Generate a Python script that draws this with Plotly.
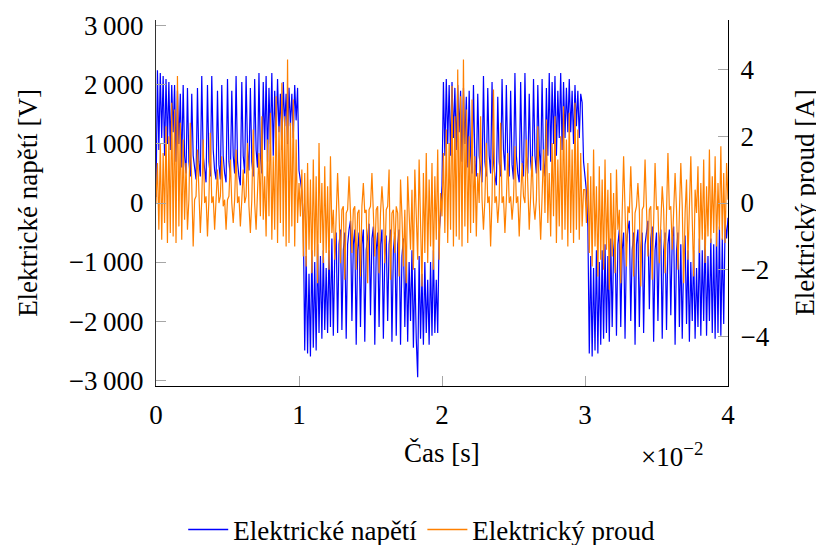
import numpy as np
import plotly.graph_objects as go

# sampling step of the recorded signals [s]
dt = 1e-4

# Elektrické napětí [V], four half-periods
u_half1 = [100, 2250, 900, 2200, 1100, 2150, 800, 2100, 1000, 2050,
           900, 2000, 1200, 2000, 700, 1900, 1000, 1850, 600, 2000,
           800, 500, 1950, 700, 450, 1850, 800, 550, 400, 1950,
           700, 450, 2150, 800, 500, 350, 2000, 700, 450, 2150,
           900, 550, 400, 1900, 650, 400, 2000, 800, 500, 350,
           2100, 700, 450, 1900, 800, 500, 2150, 700, 450, 300,
           2050, 800, 500, 2150, 900, 550, 1950, 700, 450, 2100,
           900, 600, 2200, 800, 500, 2050, 900, 2150, 700, 1950,
           1000, 2200, 800, 1900, 1100, 2100, 1200, 1850, 900, 2050,
           1300, 1850, 1000, 1950, 1300, 1850, 1100, 2000, 1400, 1950]
u_half2 = [550, 400, 200, -300, -2500, -900, -2550, -1200, -2600, -800,
           -2450, -1000, -2500, -700, -2200, -900, -2300, -800, -2150, -1100,
           -2200, -800, -2100, -600, -2250, -900, -500, -2200, -700, -450,
           -2150, -800, -500, -2300, -700, -450, -300, -2000, -700, -450,
           -2400, -800, -500, -2100, -700, -450, -2350, -800, -500, -350,
           -1900, -600, -400, -2400, -800, -500, -2100, -700, -450, -2300,
           -900, -550, -2000, -700, -450, -2350, -800, -500, -2250, -700,
           -450, -2400, -900, -600, -2100, -800, -2350, -1000, -2000, -800,
           -2450, -1100, -2300, -2950, -900, -2300, -1200, -2400, -1000, -2200,
           -1300, -2400, -1000, -2250, -800, -2200, -1300, -2200, -500, -200]
u_half3 = [300, 2050, 800, 2100, 1000, 2000, 800, 2050, 1100, 1950,
           900, 2000, 1200, 1900, 700, 1950, 1000, 1800, 600, 1900,
           800, 500, 2000, 700, 450, 1850, 800, 500, 350, 2150,
           700, 450, 1950, 800, 500, 2050, 700, 450, 300, 1800,
           700, 450, 2100, 900, 550, 2000, 700, 450, 1900, 650,
           400, 2200, 800, 500, 350, 2050, 700, 450, 2200, 800,
           500, 1850, 700, 450, 2100, 800, 500, 2000, 900, 550,
           2100, 700, 450, 1950, 800, 2200, 700, 2050, 1000, 2150,
           800, 1900, 1100, 2200, 900, 2050, 1100, 1950, 1200, 2100,
           1200, 1900, 1000, 2000, 1300, 1900, 1100, 1850, 1700, 700]
u_half4 = [500, 200, -400, -2550, -900, -2600, -1100, -2500, -800, -2550,
           -1000, -2400, -800, -2300, -700, -2200, -900, -2350, -600, -2100,
           -800, -500, -2250, -700, -450, -2100, -800, -500, -2300, -700,
           -450, -300, -2000, -800, -500, -2400, -700, -450, -2100, -800,
           -500, -2200, -700, -450, -300, -1800, -600, -400, -2350, -800,
           -500, -2000, -700, -450, -2300, -800, -500, -2150, -700, -450,
           -1900, -600, -400, -2400, -800, -500, -2100, -700, -2300, -900,
           -550, -2050, -800, -2350, -1000, -2000, -800, -2300, -1100, -2100,
           -600, -2250, -800, -2000, -500, -2250, -900, -2000, -600, -2200,
           -700, -2300, -500, -2200, -400, -2250, -600, -2050, -300, -600,
           -250]

# Elektrický proud [A], four half-periods
i_half1 = [0.0, 1.2, -0.8, 1.8, -1.1, 1.5, -0.6, 2.3, -1.2, 2.0,
           -0.9, 3.0, -1.0, 2.8, -1.2, 3.8, -0.7, 2.4, -1.1, 1.9,
           -0.5, 1.2, -0.8, 0.1, 2.4, 0.0, -1.3, 0.1, 0.2, 1.6,
           0.0, -0.9, 0.1, 1.9, 0.0, 0.2, -1.0, 0.1, 2.1, 0.0,
           0.2, -0.8, 0.1, 1.0, 0.0, 0.2, 1.4, -0.1, 0.1, -0.8,
           0.1, 0.2, 1.3, 0.0, -0.6, 0.1, 1.6, 0.0, 0.2, -0.7,
           0.1, 1.0, 0.0, 0.2, 1.8, -0.1, -0.9, 0.1, 2.2, 0.0,
           -0.8, 0.2, 1.5, -0.4, 2.6, -0.5, 0.8, -1.0, 1.9, -0.4,
           2.7, -1.1, 1.4, -0.8, 3.2, -1.2, 2.3, -0.6, 3.6, -1.0,
           2.6, -1.3, 4.3, -1.2, 2.4, -0.7, 3.1, -1.3, 1.9, -0.6]
i_half2 = [0.6, -0.4, 1.0, -1.6, 0.9, -1.9, 1.2, -1.4, 0.7, -2.1,
           1.3, -1.6, 0.8, -2.4, 1.8, -1.2, 0.6, -1.8, 1.1, -1.5,
           0.5, -2.0, 1.4, -0.9, -0.2, -1.7, -0.1, 0.9, -0.3, -1.8,
           -0.2, -0.1, -2.3, -0.3, -0.2, 0.8, -0.3, -1.5, -0.2, -0.1,
           -2.0, -0.3, -0.2, -2.2, -0.1, 0.6, -0.3, -0.2, -2.4, -0.2,
           -0.1, 0.9, -0.3, -1.6, -0.2, -0.1, -2.1, -0.3, 0.5, -0.2,
           -1.8, -0.2, -0.1, 1.0, -2.3, -0.3, -0.2, -1.5, -0.1, -0.3,
           -2.2, 0.7, -0.4, -1.9, -0.2, -2.4, 0.8, -0.5, -1.4, 0.4,
           -2.0, 1.0, -0.6, -1.7, 1.3, -1.1, -2.5, 0.9, -1.5, 1.5,
           -1.8, 0.7, -1.3, 1.2, -2.0, 0.8, -1.1, 1.6, -1.7, 0.3]
i_half3 = [-0.4, 1.5, -0.9, 2.2, -1.2, 1.8, -0.8, 3.5, -1.3, 2.6,
           -1.0, 4.0, -1.1, 3.2, -1.3, 4.3, -0.7, 2.8, -1.2, 2.0,
           -0.9, 3.1, -0.6, 1.4, -1.0, 0.9, 0.0, 2.6, 0.1, -0.8,
           0.1, 1.8, 0.0, 0.2, -1.3, 0.1, 3.4, 0.0, 0.2, -0.6,
           0.1, 2.4, 0.0, 0.2, -0.9, 0.1, 1.5, 0.0, 0.2, -0.5,
           0.1, 1.7, 0.0, 0.2, -1.0, 0.1, 1.2, 0.2, 0.0, 1.9,
           0.1, -0.8, 0.2, 1.4, 0.0, -0.5, 0.1, 2.3, 0.0, -1.1,
           0.2, 1.6, -0.3, 2.5, -0.6, 0.9, -1.0, 1.8, -0.4, 2.6,
           -1.2, 1.3, -0.7, 2.0, -1.1, 2.9, -0.8, 1.9, -1.3, 2.7,
           -0.9, 1.6, -1.2, 3.0, -0.8, 2.2, -1.1, 1.5, -0.7, 0.4]
i_half4 = [0.4, -0.6, 1.2, -1.5, 0.8, -1.9, 1.6, -1.3, 0.5, -2.2,
           1.1, -1.7, 0.7, -2.0, 1.3, -1.4, 0.4, -2.6, 0.9, -1.6,
           0.3, -2.1, 1.0, -0.8, -0.2, -2.4, -0.3, 1.4, -0.2, -1.9,
           -0.1, -0.3, 1.1, -0.2, -2.2, -0.3, -0.1, 0.6, -0.2, -2.5,
           -0.2, -0.1, 1.3, -0.3, -1.6, -0.2, -0.1, -2.3, -0.3, 1.2,
           -0.2, -0.1, -1.8, -0.3, 0.5, -0.2, -2.1, -0.3, 1.5, -0.2,
           -0.1, -1.4, -0.3, 0.9, -0.2, -2.0, -0.3, 1.2, -0.1, -2.4,
           -0.3, 0.7, -1.7, -0.2, 1.4, -0.5, -2.2, 0.4, -0.3, 1.1,
           -1.5, 0.6, -1.1, 1.3, -1.8, 0.5, -1.0, 1.6, -1.2, 0.8,
           -0.9, 1.4, -1.3, 0.6, -0.8, 1.7, -1.1, 0.9, -1.2, 1.2,
           0.1]

# tick labels
x_tickvals = [0, 0.01, 0.02, 0.03, 0.04]
x_ticktext = ["0", "1", "2", "3", "4"]
y_tickvals = [-3000, -2000, -1000, 0, 1000, 2000, 3000]
y_ticktext = ["\u22123\u2009000", "\u22122\u2009000", "\u22121\u2009000", "0",
              "1\u2009000", "2\u2009000", "3\u2009000"]
y2_tickvals = [-4, -2, 0, 2, 4]
y2_ticktext = ["\u22124", "\u22122", "0", "2", "4"]
series_names = ["Elektrické napětí", "Elektrický proud"]
series_colors = ["#0000ff", "#ff8000"]

voltage = u_half1 + u_half2 + u_half3 + u_half4
current = i_half1 + i_half2 + i_half3 + i_half4
t = np.arange(len(voltage)) * dt

FONT = "Liberation Serif"
FS = 27
TICKCOL = "#a6a6a6"

fig = go.Figure()
fig.add_trace(go.Scatter(x=t, y=voltage, mode="lines", name=series_names[0],
                         line=dict(color=series_colors[0], width=1.2), yaxis="y",
                         showlegend=False))
fig.add_trace(go.Scatter(x=t, y=current, mode="lines", name=series_names[1],
                         line=dict(color=series_colors[1], width=1.2), yaxis="y2",
                         showlegend=False))
# legend entries (drawn with a slightly thicker sample line)
for nm, col in zip(series_names, series_colors):
    fig.add_trace(go.Scatter(x=[None], y=[None], mode="lines", name=nm,
                             line=dict(color=col, width=1.6), showlegend=True))

fig.update_layout(
    width=816, height=537,
    margin=dict(l=148, r=96, t=12, b=159, autoexpand=False),
    paper_bgcolor="white", plot_bgcolor="white",
    font=dict(family=FONT, size=FS, color="black"),
    xaxis=dict(range=[0, 0.04], tickvals=x_tickvals, ticktext=x_ticktext,
               showline=True, linecolor="black", linewidth=1.3,
               ticks="inside", tickcolor=TICKCOL, ticklen=10, tickwidth=1.3,
               showgrid=False, zeroline=False, mirror=False, automargin=False,
               ticklabelstandoff=4, tickfont=dict(family=FONT, size=FS)),
    yaxis=dict(range=[-3100, 3100], tickvals=y_tickvals, ticktext=y_ticktext,
               showline=True, linecolor="#333333", linewidth=1.3,
               ticks="inside", tickcolor=TICKCOL, ticklen=10, tickwidth=1.3,
               showgrid=False, zeroline=False, automargin=False,
               ticklabelstandoff=6, tickfont=dict(family=FONT, size=FS)),
    yaxis2=dict(range=[-5.48, 5.48], tickvals=y2_tickvals, ticktext=y2_ticktext,
                overlaying="y", side="right",
                showline=True, linecolor="black", linewidth=1.3,
                ticks="inside", tickcolor=TICKCOL, ticklen=10, tickwidth=1.3,
                showgrid=False, zeroline=False, automargin=False,
                ticklabelstandoff=6, tickfont=dict(family=FONT, size=FS)),
    showlegend=True,
    legend=dict(orientation="h", xref="container", yref="container",
                x=0.507, y=0.028, xanchor="center", yanchor="middle",
                font=dict(family=FONT, size=FS), bgcolor="rgba(0,0,0,0)",
                itemwidth=40, tracegroupgap=0),
    annotations=[
        dict(text="Elektrické napětí [V]", xref="paper", yref="paper",
             x=-0.224, y=0.5, xanchor="center", yanchor="middle",
             textangle=-90, showarrow=False, font=dict(family=FONT, size=FS)),
        dict(text="Elektrický proud [A]", xref="paper", yref="paper",
             x=1.134, y=0.5, xanchor="center", yanchor="middle",
             textangle=-90, showarrow=False, font=dict(family=FONT, size=FS)),
        dict(text="Čas [s]", xref="paper", yref="paper",
             x=0.5, y=-0.183, xanchor="center", yanchor="middle",
             showarrow=False, font=dict(family=FONT, size=FS)),
        dict(text="×10<sup>−2</sup>", xref="paper", yref="paper",
             x=0.902, y=-0.189, xanchor="center", yanchor="middle",
             showarrow=False, font=dict(family=FONT, size=FS)),
    ],
)

fig.write_html("out.html")
